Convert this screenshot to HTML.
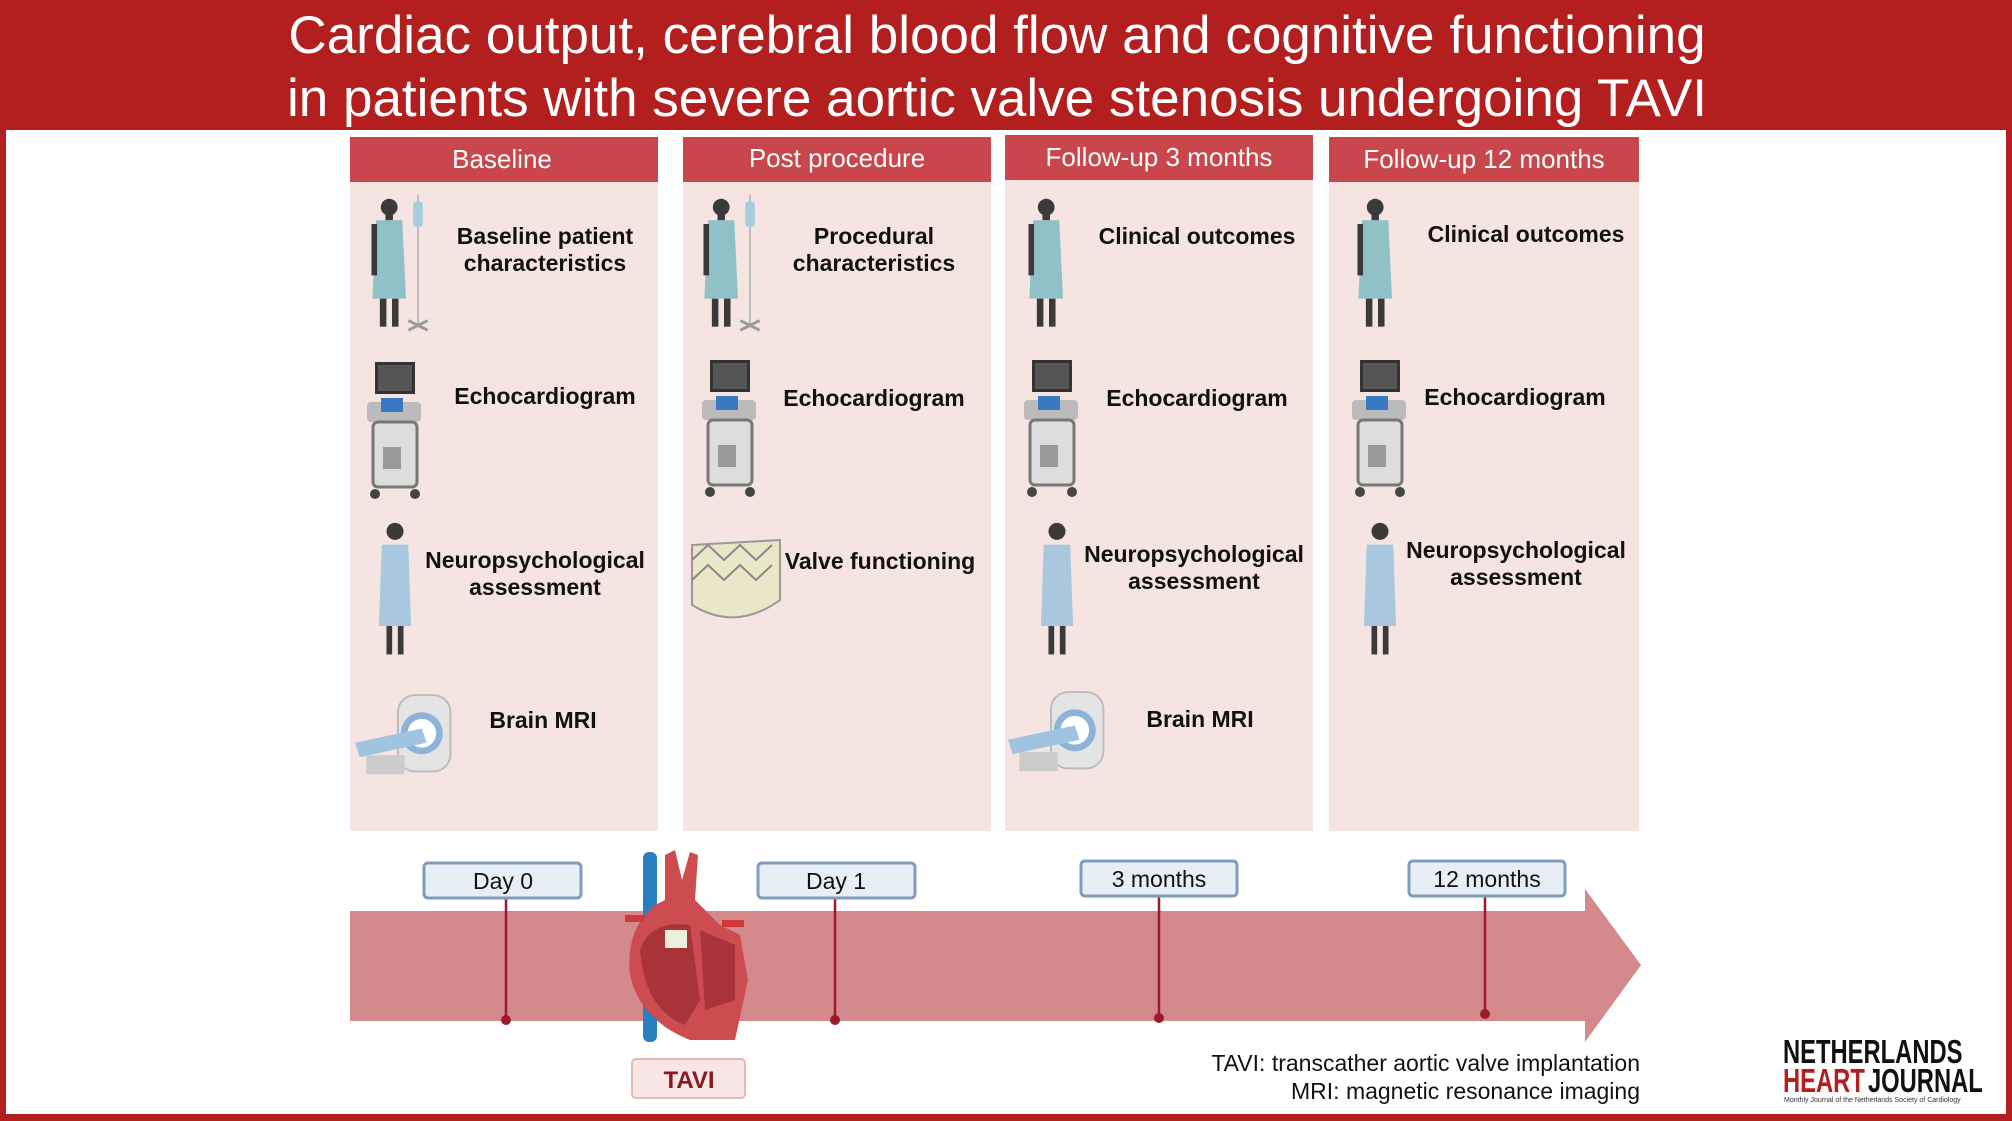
<!DOCTYPE html>
<html><head><meta charset="utf-8"><style>
html,body{margin:0;padding:0;background:#fff}
svg{display:block}
text{font-family:"Liberation Sans",sans-serif}
.it{font-weight:bold;font-size:23px;fill:#111;text-anchor:middle}
.ch{font-size:26px;fill:#fff;text-anchor:middle}
.bx{font-size:23px;fill:#111;text-anchor:middle}
</style></head><body>
<svg width="2012" height="1121" viewBox="0 0 2012 1121" xmlns="http://www.w3.org/2000/svg">
<defs>
<symbol id="pat" viewBox="0 0 50 150">
<circle cx="22" cy="12" r="9" fill="#3a3a3a"/>
<rect x="18" y="18" width="8" height="8" fill="#3a3a3a"/>
<path d="M8 26 L36 26 L40 110 L4 110 Z" fill="#8fc1c6"/>
<rect x="12" y="110" width="7" height="30" fill="#3a3a3a"/><rect x="25" y="110" width="7" height="30" fill="#3a3a3a"/>
<rect x="3" y="30" width="6" height="55" fill="#3a3a3a"/>
</symbol>
<symbol id="iv" viewBox="0 0 20 150">
<rect x="9" y="5" width="2" height="135" fill="#bbb"/>
<rect x="5" y="12" width="10" height="26" rx="3" fill="#a8cde0"/>
<path d="M0 145 L20 135 M0 135 L20 145" stroke="#999" stroke-width="3"/>
</symbol>
<symbol id="echo" viewBox="0 0 60 140">
<rect x="10" y="0" width="40" height="32" fill="#333"/><rect x="13" y="3" width="34" height="26" fill="#555"/>
<rect x="2" y="40" width="54" height="20" rx="4" fill="#bbb"/><rect x="16" y="36" width="22" height="14" fill="#3a78c4"/>
<rect x="8" y="60" width="44" height="65" rx="5" fill="#ddd" stroke="#777" stroke-width="3"/>
<rect x="18" y="85" width="18" height="22" fill="#999"/>
<circle cx="10" cy="132" r="5" fill="#444"/><circle cx="50" cy="132" r="5" fill="#444"/>
</symbol>
<symbol id="doc" viewBox="0 0 40 150">
<circle cx="20" cy="12" r="9" fill="#3a3a3a"/>
<path d="M6 26 L34 26 L37 112 L3 112 Z" fill="#a9c8e0"/>
<rect x="11" y="112" width="6" height="30" fill="#3a3a3a"/><rect x="23" y="112" width="6" height="30" fill="#3a3a3a"/>
</symbol>
<symbol id="mri" viewBox="0 0 110 100">
<rect x="45" y="5" width="55" height="80" rx="18" fill="#e4e4e4" stroke="#bbb" stroke-width="2"/>
<circle cx="70" cy="45" r="22" fill="#8db3d8"/><circle cx="70" cy="45" r="15" fill="#fff"/>
<path d="M0 55 L70 40 L75 55 L5 70 Z" fill="#9fc3e0"/>
<rect x="12" y="68" width="40" height="20" fill="#ccc"/>
</symbol>
</defs>
<rect x="0" y="0" width="2012" height="1121" fill="#b31f1f"/>
<rect x="6" y="130" width="2000" height="984" fill="#fff"/>
<text x="997" y="53" font-size="53" fill="#fff" text-anchor="middle">Cardiac output, cerebral blood flow and cognitive functioning</text>
<text x="997" y="116" font-size="53" fill="#fff" text-anchor="middle">in patients with severe aortic valve stenosis undergoing TAVI</text>

<g>
<rect x="350" y="137" width="308" height="694" fill="#f6e4e3"/><rect x="350" y="137" width="308" height="45" fill="#c8464c"/>
<rect x="683" y="137" width="308" height="694" fill="#f6e4e3"/><rect x="683" y="137" width="308" height="45" fill="#c8464c"/>
<rect x="1005" y="135" width="308" height="696" fill="#f6e4e3"/><rect x="1005" y="135" width="308" height="45" fill="#c8464c"/>
<rect x="1329" y="137" width="310" height="694" fill="#f6e4e3"/><rect x="1329" y="137" width="310" height="45" fill="#c8464c"/>
<text class="ch" x="502" y="168">Baseline</text>
<text class="ch" x="837" y="167">Post procedure</text>
<text class="ch" x="1159" y="166">Follow-up 3 months</text>
<text class="ch" x="1484" y="168">Follow-up 12 months</text>
</g>

<use href="#pat" x="368" y="196" width="48" height="140"/><use href="#iv" x="408" y="190" width="20" height="145"/>
<use href="#pat" x="700" y="196" width="48" height="140"/><use href="#iv" x="740" y="190" width="20" height="145"/>
<use href="#pat" x="1025" y="196" width="48" height="140"/>
<use href="#pat" x="1354" y="196" width="48" height="140"/>
<use href="#echo" x="365" y="362" width="60" height="140"/>
<use href="#echo" x="700" y="360" width="60" height="140"/>
<use href="#echo" x="1022" y="360" width="60" height="140"/>
<use href="#echo" x="1350" y="360" width="60" height="140"/>
<use href="#doc" x="375" y="520" width="40" height="142"/>
<use href="#doc" x="1037" y="520" width="40" height="142"/>
<use href="#doc" x="1360" y="520" width="40" height="142"/>
<use href="#mri" x="355" y="690" width="105" height="96"/>
<use href="#mri" x="1008" y="687" width="105" height="96"/>
<g>
<path d="M692 545 L780 540 L780 600 Q736 632 692 605 Z" fill="#eae6c8" stroke="#999" stroke-width="2"/>
<path d="M692 560 L708 545 L724 560 L740 545 L756 560 L772 545 M692 580 L708 565 L724 580 L740 565 L756 580 L772 565" stroke="#888" fill="none" stroke-width="2"/>
</g>

<text class="it" x="545" y="244">Baseline patient</text><text class="it" x="545" y="271">characteristics</text>
<text class="it" x="545" y="404">Echocardiogram</text>
<text class="it" x="535" y="568">Neuropsychological</text><text class="it" x="535" y="595">assessment</text>
<text class="it" x="543" y="728">Brain MRI</text>
<text class="it" x="874" y="244">Procedural</text><text class="it" x="874" y="271">characteristics</text>
<text class="it" x="874" y="406">Echocardiogram</text>
<text class="it" x="880" y="569">Valve functioning</text>
<text class="it" x="1197" y="244">Clinical outcomes</text>
<text class="it" x="1197" y="406">Echocardiogram</text>
<text class="it" x="1194" y="562">Neuropsychological</text><text class="it" x="1194" y="589">assessment</text>
<text class="it" x="1200" y="727">Brain MRI</text>
<text class="it" x="1526" y="242">Clinical outcomes</text>
<text class="it" x="1515" y="405">Echocardiogram</text>
<text class="it" x="1516" y="558">Neuropsychological</text><text class="it" x="1516" y="585">assessment</text>

<path d="M350 911 L1585 911 L1585 889 L1641 965 L1585 1042 L1585 1021 L350 1021 Z" fill="#d48a8d"/>
<g stroke="#9a1b2a" stroke-width="2.5">
<line x1="506" y1="898" x2="506" y2="1020"/><line x1="835" y1="898" x2="835" y2="1020"/>
<line x1="1159" y1="896" x2="1159" y2="1018"/><line x1="1485" y1="896" x2="1485" y2="1014"/>
</g>
<g fill="#9a1b2a"><circle cx="506" cy="1020" r="5"/><circle cx="835" cy="1020" r="5"/><circle cx="1159" cy="1018" r="5"/><circle cx="1485" cy="1014" r="5"/></g>
<g fill="#e8eef6" stroke="#7f9cbd" stroke-width="3">
<rect x="424" y="863" width="157" height="35" rx="4"/><rect x="758" y="863" width="157" height="35" rx="4"/>
<rect x="1081" y="861" width="156" height="35" rx="4"/><rect x="1409" y="861" width="156" height="35" rx="4"/>
</g>
<text class="bx" x="503" y="889">Day 0</text><text class="bx" x="836" y="889">Day 1</text>
<text class="bx" x="1159" y="887">3 months</text><text class="bx" x="1487" y="887">12 months</text>

<g>
<rect x="643" y="852" width="14" height="190" rx="6" fill="#2a7fc0"/>
<path d="M665 855 L675 850 L682 880 L690 852 L698 855 L695 900 L705 910 L720 925 L740 935 L748 980 L735 1040 L690 1040 Q640 1020 630 975 Q625 930 655 905 L665 900 Z" fill="#cd4c4f"/>
<path d="M640 950 Q650 920 690 925 L700 1000 L685 1025 Q645 1010 640 950Z" fill="#a8343a"/>
<path d="M700 930 L735 945 L735 1000 L705 1010 Z" fill="#a8343a"/>
<rect x="665" y="930" width="22" height="18" fill="#efeedd"/>
<rect x="625" y="915" width="20" height="7" fill="#d03a3a"/><rect x="722" y="920" width="22" height="7" fill="#d03a3a"/>
</g>
<rect x="632" y="1059" width="113" height="39" rx="4" fill="#f8e6e6" stroke="#e4b8b8" stroke-width="2"/>
<text x="689" y="1088" font-size="24" font-weight="bold" fill="#8a1a22" text-anchor="middle">TAVI</text>

<text x="1640" y="1071" font-size="23" fill="#111" text-anchor="end">TAVI: transcather aortic valve implantation</text>
<text x="1640" y="1099" font-size="23" fill="#111" text-anchor="end">MRI: magnetic resonance imaging</text>

<g transform="translate(1783,0) scale(0.72,1)">
<text x="0" y="1063" font-size="33" font-weight="bold" fill="#111">NETHERLANDS</text>
<text x="0" y="1092" font-size="33" font-weight="bold" fill="#b31f1f">HEART</text>
<text x="118" y="1092" font-size="33" font-weight="bold" fill="#111">JOURNAL</text>
</g>
<text x="1784" y="1102" font-size="7" fill="#333" font-family="Liberation Serif,serif">Monthly Journal of the Netherlands Society of Cardiology</text>
</svg>
</body></html>
